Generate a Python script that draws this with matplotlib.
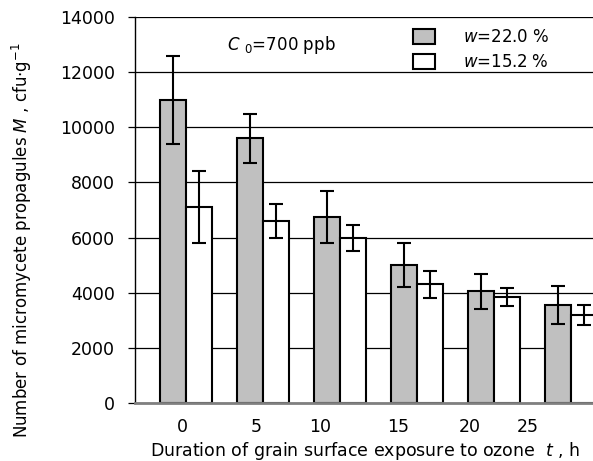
import numpy as np
import matplotlib.pyplot as plt
from matplotlib.patches import Patch

plt.rcParams['font.family'] = 'DejaVu Sans'
plt.rcParams['mathtext.fontset'] = 'dejavusans'

# exposure time t, h
hours = ['0', '5', '10', '15', '20', '25']
# where the tick labels sit (they are offset from the bar groups in the original)
tick_pos = [-0.05, 0.91, 1.74, 2.75, 3.69, 4.44]

m_w22 = [11000, 9600, 6750, 5000, 4050, 3550]
err_w22 = [1600, 880, 950, 800, 640, 680]
m_w15 = [7100, 6600, 6000, 4300, 3850, 3200]
err_w15 = [1300, 600, 470, 490, 320, 360]

fig = plt.figure(figsize=(5.93, 4.61), dpi=100)
ax = fig.add_axes([0.2277, 0.1258, 0.7723, 0.8373])

x = np.arange(len(hours))
w = 0.34
ax.set_axisbelow(True)
ax.yaxis.grid(True, color='black', lw=0.9)
ax.bar(x - w/2, m_w22, w, color='#c0c0c0', edgecolor='black', lw=1.5,
       yerr=err_w22, error_kw=dict(ecolor='black', elinewidth=1.5, capsize=5, capthick=1.5))
ax.bar(x + w/2, m_w15, w, color='white', edgecolor='black', lw=1.5,
       yerr=err_w15, error_kw=dict(ecolor='black', elinewidth=1.5, capsize=5, capthick=1.5))

ax.set_xlim(-0.662, 5.286)
ax.set_ylim(0, 14000)
ax.set_yticks(np.arange(0, 14001, 2000))
ax.set_xticks(tick_pos)
ax.set_xticklabels(hours)
ax.tick_params(axis='x', length=0, pad=11, labelsize=12.5)
ax.tick_params(axis='y', length=5, width=0.9, pad=9.5, labelsize=12.5)
for s in ['top', 'right']:
    ax.spines[s].set_visible(False)
ax.spines['left'].set_linewidth(1.0)
ax.spines['bottom'].set_color('#808080')
ax.spines['bottom'].set_linewidth(2)

ax.text(92/458, 1 - 28/386, r'$C$ $_{0}$=700 ppb', transform=ax.transAxes,
        fontsize=12, va='center', ha='left')

handles = [Patch(facecolor='#c0c0c0', edgecolor='black', lw=1.5),
           Patch(facecolor='white', edgecolor='black', lw=1.5)]
ax.legend(handles, [r'$w$=22.0 %', r'$w$=15.2 %'], frameon=False,
          loc='upper left', bbox_to_anchor=(0.575, 1.01), fontsize=12,
          handlelength=1.3, handleheight=1.0, handletextpad=1.7, labelspacing=0.4)

fig.text(365/593, 1 - 456/461, r'Duration of grain surface exposure to ozone  $t$ , h',
         ha='center', va='baseline', fontsize=12.5)
fig.text(22/593, 1 - 240/461, r'Number of micromycete propagules $M$ , cfu$\cdot$g$^{-1}$',
         ha='center', va='center', rotation=90, fontsize=12)

fig.savefig('out.png', dpi=100)
